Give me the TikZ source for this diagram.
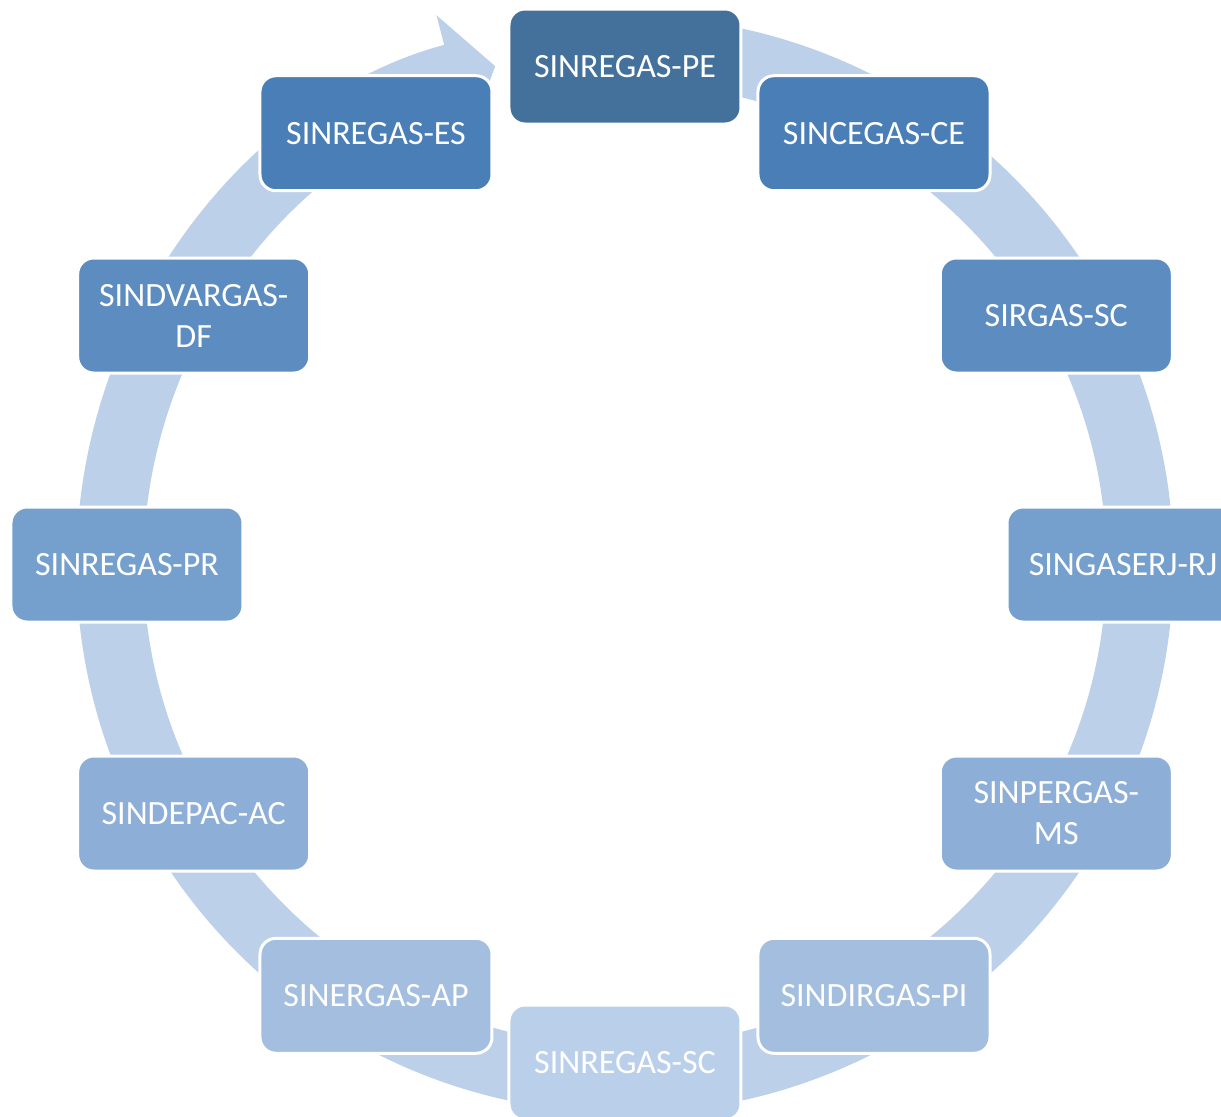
\documentclass[tikz,border=0pt]{standalone}
\usepackage{fontspec}
\setmainfont{Carlito}
\usetikzlibrary{arrows.meta}

\definecolor{ringblue}{HTML}{BCD0EA}
\definecolor{sA}{HTML}{44719C}
\definecolor{sB}{HTML}{4A7EB6}
\definecolor{sC}{HTML}{5C8CC0}
\definecolor{sD}{HTML}{75A0CD}
\definecolor{sE}{HTML}{8DAED6}
\definecolor{sF}{HTML}{A4BEE0}
\definecolor{sG}{HTML}{BACFEA}

\tikzstyle{stage}=[rectangle,rounded corners=8pt,draw=white,line width=1.5pt,
  minimum width=116pt,minimum height=57.5pt,inner sep=0pt,text=white,align=center,
  font=\fontsize{17}{20.5}\selectfont]

\begin{document}
\begin{tikzpicture}[x=0.5pt,y=0.5pt]
    \useasboundingbox (-625,-551.5) rectangle (596,564.5);
    %Ring with arrow
    \draw[ringblue,line width=33.5pt,-{Triangle[length=22pt,width=63pt]}]
        (85:515) arc[start angle=85,end angle=-255.4,radius=515];
    %Stages
    \foreach \ang/\id/\txt/\shade in {90/pe/SINREGAS-PE/sA, 60/ce/SINCEGAS-CE/sB,
                             30/scr/SIRGAS-SC/sC, 0/rj/SINGASERJ-RJ/sD,
                             -30/ms/{SINPERGAS-\\MS}/sE, -60/pi/SINDIRGAS-PI/sF,
                             -90/scb/SINREGAS-SC/sG, -120/ap/SINERGAS-AP/sF,
                             -150/ac/SINDEPAC-AC/sE, 180/pr/SINREGAS-PR/sD,
                             150/df/{SINDVARGAS-\\DF}/sC, 120/es/SINREGAS-ES/sB}
    \node[stage,fill=\shade] (\id) at (\ang:498) {\txt};
\end{tikzpicture}
\end{document}
